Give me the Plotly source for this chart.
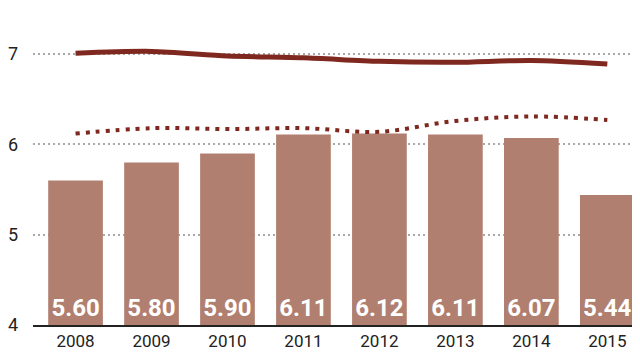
import plotly.graph_objects as go

years = ["2008", "2009", "2010", "2011", "2012", "2013", "2014", "2015"]
bar_values = [5.60, 5.80, 5.90, 6.11, 6.12, 6.11, 6.07, 5.44]
bar_labels = ["5.60", "5.80", "5.90", "6.11", "6.12", "6.11", "6.07", "5.44"]
solid_line = [7.01, 7.03, 6.98, 6.96, 6.92, 6.91, 6.93, 6.89]
dotted_line = [6.12, 6.18, 6.17, 6.18, 6.14, 6.26, 6.31, 6.27]

axis_base = 4
bar_color = "#b07f70"
line_color = "#7f2820"

fig = go.Figure()
fig.add_trace(go.Bar(
    x=years, y=[v - axis_base for v in bar_values], base=axis_base,
    marker=dict(color=bar_color, line=dict(width=0)),
    width=0.72,
    text=bar_labels, textposition="inside", insidetextanchor="start",
    textfont=dict(family="Roboto", size=24, color="white", weight="bold"),
    textangle=0, constraintext="none",
    hoverinfo="skip",
))
fig.add_trace(go.Scatter(
    x=years, y=dotted_line, mode="lines",
    line=dict(color=line_color, width=4, dash="4px,6px", shape="spline", smoothing=1),
    hoverinfo="skip",
))
fig.add_trace(go.Scatter(
    x=years, y=solid_line, mode="lines",
    line=dict(color=line_color, width=5, shape="spline", smoothing=0.8),
    hoverinfo="skip",
))

fig.update_layout(
    width=632, height=345,
    margin=dict(l=25, r=0, t=12, b=28),
    plot_bgcolor="white", paper_bgcolor="white",
    showlegend=False,
    font=dict(family="Roboto", color="#222222"),
    xaxis=dict(
        type="category", range=[-0.56, 7.43],
        showgrid=False, showline=True, linecolor="#222222", linewidth=2,
        ticks="", tickfont=dict(size=17, color="#222222"),
        fixedrange=True,
    ),
    yaxis=dict(
        range=[4, 7.378], tickvals=[4, 5, 6, 7], ticktext=["4", "5", "6", "7"],
        showgrid=True, gridcolor="#a8a8a8", gridwidth=1.5, griddash="2px,3px",
        zeroline=False, showline=False, ticks="",
        tickfont=dict(size=18, color="#222222"), ticklabelstandoff=14,
        fixedrange=True,
    ),
)

fig.write_html("out.html")
